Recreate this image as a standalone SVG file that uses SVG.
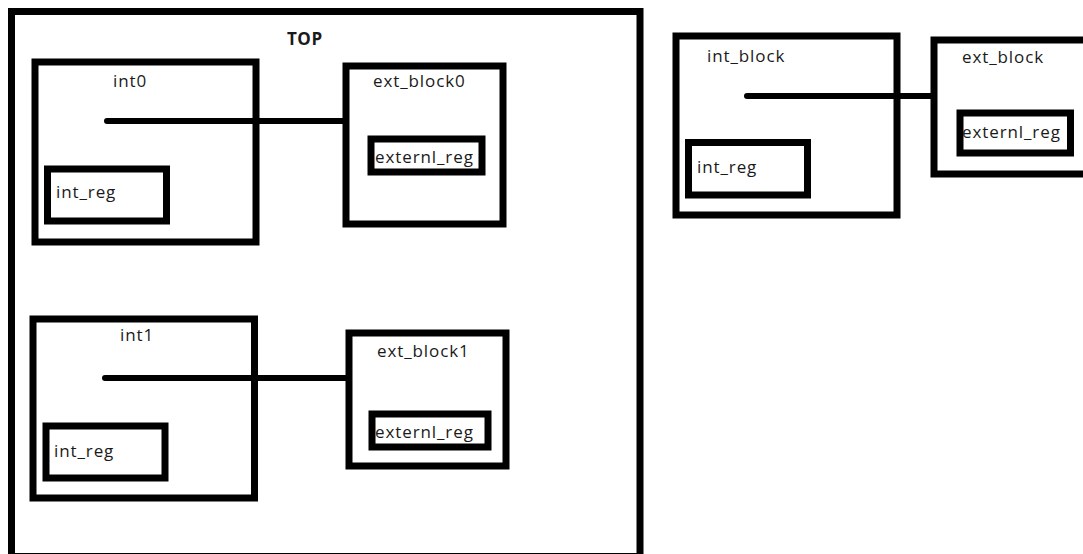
<svg xmlns="http://www.w3.org/2000/svg" width="1083" height="554" viewBox="0 0 1083 554">
<style>
.box{fill:none;stroke:#000;stroke-width:7}
.reg{fill:none;stroke:#000;stroke-width:7}
.wire{stroke:#000;stroke-width:6;stroke-linecap:round;fill:none}
text{font-family:"Open Sans","Noto Sans",sans-serif;font-size:17px;letter-spacing:0.9px;fill:#1a1a1a}
.title{font-weight:bold;font-size:17px;letter-spacing:0.5px}
</style>
<rect width="1083" height="554" fill="#fff"/>
<g id="top">
<rect class="box" x="11.5" y="11.5" width="628.5" height="545"/>
<text class="title" x="287" y="45">TOP</text>
</g>
<g id="int0">
<rect class="box" x="35" y="62" width="221" height="180"/>
<text x="113" y="87">int0</text>
<g id="int0_int_reg">
<rect class="reg" x="47.5" y="169" width="119" height="52"/>
<text x="56" y="198">int_reg</text>
</g>
</g>
<g id="ext_block0">
<rect class="box" x="346" y="66" width="157" height="158"/>
<text x="373" y="87">ext_block0</text>
<g id="ext_block0_externl_reg">
<rect class="reg" x="371" y="139" width="111" height="33"/>
<text x="375" y="163">externl_reg</text>
</g>
</g>
<g id="int1">
<rect class="box" x="33" y="319" width="221.5" height="179"/>
<text x="120" y="341">int1</text>
<g id="int1_int_reg">
<rect class="reg" x="46" y="426" width="119" height="52"/>
<text x="54" y="457">int_reg</text>
</g>
</g>
<g id="ext_block1">
<rect class="box" x="349" y="333" width="157" height="133"/>
<text x="377" y="357">ext_block1</text>
<g id="ext_block1_externl_reg">
<rect class="reg" x="372" y="414" width="116" height="33"/>
<text x="375" y="438">externl_reg</text>
</g>
</g>
<g id="int_block">
<rect class="box" x="676" y="36" width="221" height="179"/>
<text x="707" y="62">int_block</text>
<g id="int_block_int_reg">
<rect class="reg" x="688.5" y="142.5" width="119" height="52.5"/>
<text x="697" y="173">int_reg</text>
</g>
</g>
<g id="ext_block">
<rect class="box" x="934" y="40" width="160" height="134"/>
<text x="962" y="63">ext_block</text>
<g id="ext_block_externl_reg">
<rect class="reg" x="960" y="113" width="110.5" height="40"/>
<text x="962" y="138">externl_reg</text>
</g>
</g>
<g id="connectors">
<line class="wire" x1="107" y1="121" x2="346" y2="121"/>
<line class="wire" x1="105" y1="378" x2="349" y2="378"/>
<line class="wire" x1="747" y1="96" x2="934" y2="96"/>
</g>
</svg>
